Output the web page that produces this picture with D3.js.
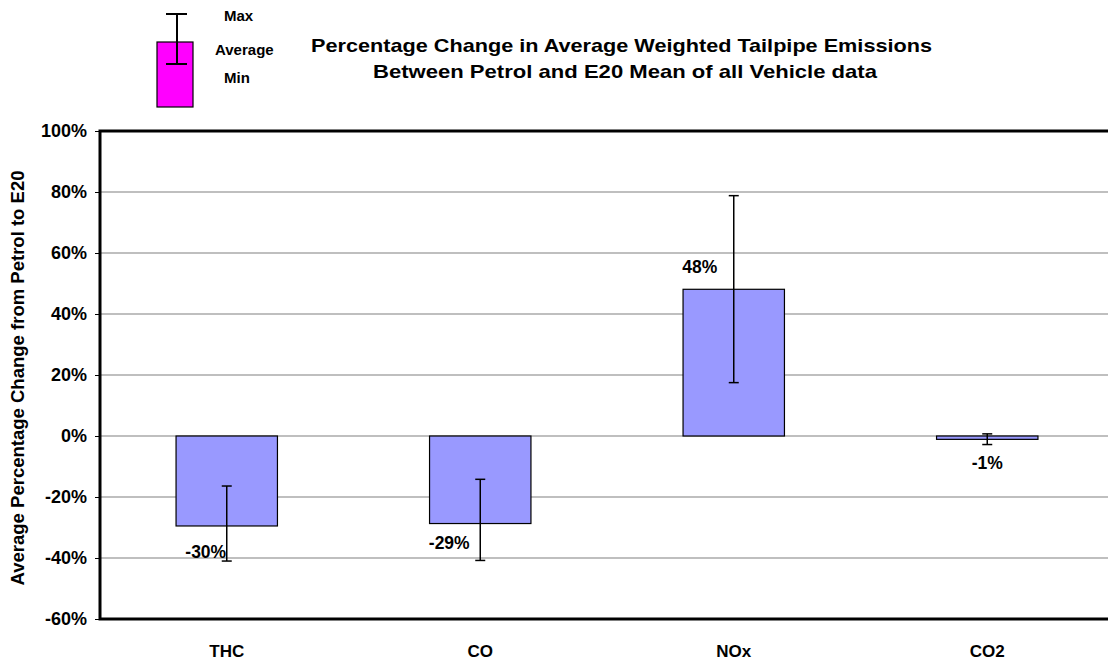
<!DOCTYPE html>
<html>
<head>
<meta charset="utf-8">
<script src="https://cdn.jsdelivr.net/npm/d3@7"></script>
<style>
  html, body { margin: 0; padding: 0; background: #fff; }
  svg { display: block; font-family: "Liberation Sans", Arial, sans-serif; font-weight: bold; }
</style>
</head>
<body>
<svg id="chart" width="1108" height="663"></svg>
<script>
// ---- data ----
const categories = ["THC", "CO", "NOx", "CO2"];
const averages   = [-29.5, -28.7, 48.1, -1.1];
const maxValues  = [-16.4, -14.2, 78.8, 0.7];
const minValues  = [-41.0, -40.8, 17.5, -2.8];
const valueLabels = ["-30%", "-29%", "48%", "-1%"];
const yTicks = [-60, -40, -20, 0, 20, 40, 60, 80, 100];

// label placement tweaks (layout, not data)
const labelDx = [-21, -31, -34, 0];
const labelDy = [32, 25, -16, 30];

const svg = d3.select("#chart");
const pLeft = 100, pTop = 131, pBottom = 619, pRight = 1114;

const y = d3.scaleLinear().domain([-60, 100]).range([pBottom, pTop]);
const x = d3.scaleBand().domain(categories).range([pLeft, pRight]).paddingInner(0.6).paddingOuter(0.3);

// gridlines
svg.append("g").selectAll("line").data(yTicks.filter(t => t !== -60 && t !== 100)).join("line")
  .attr("x1", pLeft).attr("x2", 1108)
  .attr("y1", d => y(d)).attr("y2", d => y(d))
  .attr("stroke", "#808080").attr("stroke-width", 1.2);

// y axis
const yAxis = d3.axisLeft(y).tickValues(yTicks).tickFormat(d => d + "%").tickSize(5).tickPadding(8);
const ga = svg.append("g").attr("transform", `translate(${pLeft},0)`).call(yAxis);
ga.select(".domain").remove();
ga.selectAll(".tick line").attr("stroke", "#000").attr("stroke-width", 1);
ga.selectAll(".tick text").attr("font-size", 18).attr("font-weight", "bold")
  .attr("font-family", '"Liberation Sans", Arial, sans-serif').attr("fill", "#000");

// bars
const idx = categories.map((c, i) => i);
svg.append("g").selectAll("rect").data(idx).join("rect")
  .attr("x", i => x(categories[i]))
  .attr("width", x.bandwidth())
  .attr("y", i => y(Math.max(0, averages[i])))
  .attr("height", i => Math.abs(y(averages[i]) - y(0)))
  .attr("fill", "#9999FF").attr("stroke", "#000").attr("stroke-width", 1.2);

// error bars
const cx = i => x(categories[i]) + x.bandwidth() / 2;
const eb = svg.append("g").attr("stroke", "#000").attr("stroke-width", 1.5);
eb.selectAll("line.v").data(idx).join("line").attr("class", "v")
  .attr("x1", cx).attr("x2", cx)
  .attr("y1", i => y(maxValues[i])).attr("y2", i => y(minValues[i]));
eb.selectAll("line.t").data(idx).join("line").attr("class", "t")
  .attr("x1", i => cx(i) - 5).attr("x2", i => cx(i) + 5)
  .attr("y1", i => y(maxValues[i])).attr("y2", i => y(maxValues[i]));
eb.selectAll("line.b").data(idx).join("line").attr("class", "b")
  .attr("x1", i => cx(i) - 5).attr("x2", i => cx(i) + 5)
  .attr("y1", i => y(minValues[i])).attr("y2", i => y(minValues[i]));

// value labels
svg.append("g").selectAll("text").data(idx).join("text")
  .attr("x", i => cx(i) + labelDx[i])
  .attr("y", i => y(averages[i]) + labelDy[i])
  .attr("text-anchor", "middle").attr("font-size", 17.5).attr("fill", "#000")
  .text(i => valueLabels[i]);

// frame (left, top, bottom)
svg.append("path")
  .attr("d", `M1108,${pTop} H${pLeft} V${pBottom} H1108`)
  .attr("fill", "none").attr("stroke", "#000").attr("stroke-width", 3);

// x labels
svg.append("g").selectAll("text").data(idx).join("text")
  .attr("x", cx).attr("y", 657)
  .attr("text-anchor", "middle").attr("font-size", 17).attr("fill", "#000")
  .text(i => categories[i]);

// y axis title
svg.append("text")
  .attr("transform", `translate(24,378) rotate(-90)`)
  .attr("text-anchor", "middle").attr("font-size", 18).attr("fill", "#000")
  .attr("textLength", 415).attr("lengthAdjust", "spacingAndGlyphs")
  .text("Average Percentage Change from Petrol to E20");

// title
const title = svg.append("g").attr("font-size", 19).attr("fill", "#000");
title.append("text").attr("text-anchor", "middle").attr("x", 621.5).attr("y", 52)
  .attr("textLength", 621).attr("lengthAdjust", "spacingAndGlyphs")
  .text("Percentage Change in Average Weighted Tailpipe Emissions");
title.append("text").attr("text-anchor", "middle").attr("x", 625).attr("y", 78)
  .attr("textLength", 504).attr("lengthAdjust", "spacingAndGlyphs")
  .text("Between Petrol and E20 Mean of all Vehicle data");

// legend
const lg = svg.append("g");
lg.append("rect").attr("x", 157).attr("y", 42).attr("width", 36).attr("height", 65)
  .attr("fill", "#FF00FF").attr("stroke", "#000").attr("stroke-width", 1.2);
lg.append("line").attr("x1", 177).attr("x2", 177).attr("y1", 14).attr("y2", 64).attr("stroke", "#000").attr("stroke-width", 2);
lg.append("line").attr("x1", 166).attr("x2", 187).attr("y1", 14).attr("y2", 14).attr("stroke", "#000").attr("stroke-width", 2);
lg.append("line").attr("x1", 166).attr("x2", 187).attr("y1", 64).attr("y2", 64).attr("stroke", "#000").attr("stroke-width", 2);
const legendLabels = [["Max", 224, 21], ["Average", 215, 55], ["Min", 224, 83]];
lg.selectAll("text").data(legendLabels).join("text")
  .attr("x", d => d[1]).attr("y", d => d[2]).attr("font-size", 15).attr("fill", "#000")
  .text(d => d[0]);
</script>
</body>
</html>
